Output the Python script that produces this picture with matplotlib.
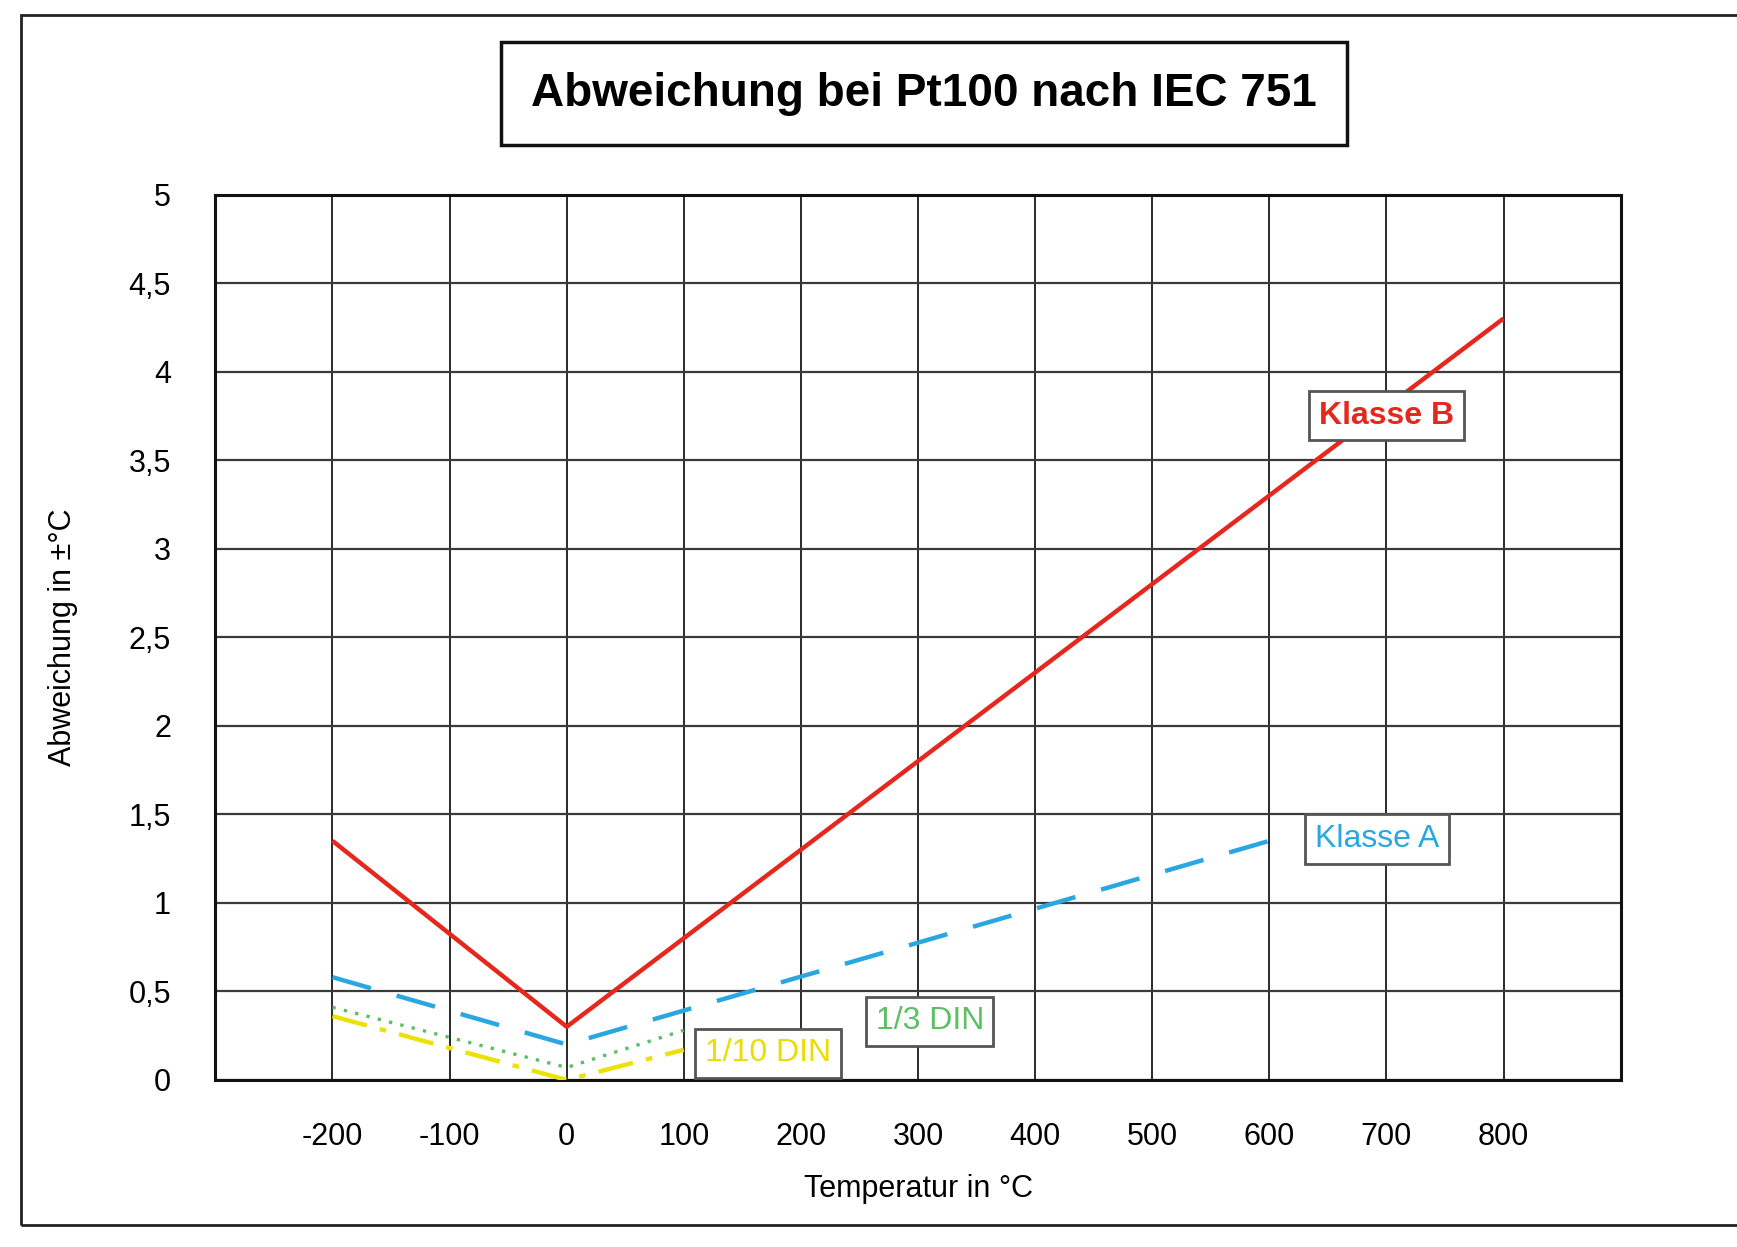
import matplotlib
matplotlib.use("Agg")
import matplotlib.pyplot as plt
from matplotlib.patches import Rectangle

plt.rcParams['font.family'] = ['Liberation Sans', 'DejaVu Sans']

# Data
temp_b = [-200, 0, 800]
klasse_b = [1.35, 0.30, 4.30]
temp_a = [-200, 0, 600]
klasse_a = [0.58, 0.20, 1.35]
temp_din = [-200, 0, 100]
din_1_3 = [0.41, 0.07, 0.28]
din_1_10 = [0.36, 0.00, 0.17]

x_ticks = [-200, -100, 0, 100, 200, 300, 400, 500, 600, 700, 800]
x_tick_labels = ["-200", "-100", "0", "100", "200", "300", "400", "500", "600", "700", "800"]
y_ticks = [0, 0.5, 1, 1.5, 2, 2.5, 3, 3.5, 4, 4.5, 5]
y_tick_labels = ["0", "0,5", "1", "1,5", "2", "2,5", "3", "3,5", "4", "4,5", "5"]

title = "Abweichung bei Pt100 nach IEC 751"
xlabel = "Temperatur in °C"
ylabel = "Abweichung in ±°C"

fig = plt.figure(figsize=(17.37, 12.47), dpi=100)
fig.patches.append(Rectangle((0.012, 0.018), 1.2, 0.97, transform=fig.transFigure,
                             fill=False, edgecolor='#222222', linewidth=2.0))

ax = fig.add_axes([0.124, 0.134, 0.809, 0.71])
ax.set_xlim(-300, 900)
ax.set_ylim(0, 5)

# grid
ax.set_xticks(range(-300, 901, 100), minor=True)
ax.set_xticks(x_ticks)
ax.set_xticklabels(x_tick_labels)
ax.set_yticks(y_ticks)
ax.set_yticklabels(y_tick_labels)
ax.grid(True, which='both', axis='x', color='#2a2a2a', linewidth=1.4)
ax.grid(True, which='major', axis='y', color='#3a3a3a', linewidth=1.6)
ax.tick_params(which='both', length=0)
ax.tick_params(axis='x', pad=30, labelsize=22)
ax.tick_params(axis='y', pad=32, labelsize=22)
for s in ax.spines.values():
    s.set_linewidth(2.2)
    s.set_color('#111111')

ax.plot(temp_b, klasse_b, color='#e5281e', linewidth=3.2, solid_capstyle='butt', zorder=5)
ax.plot(temp_a, klasse_a, color='#2aa6e0', linewidth=3.2, dashes=(9, 6), zorder=4)
ax.plot(temp_din, din_1_3, color='#5cbf62', linewidth=2.4, linestyle=(0, (1, 2.5)), zorder=3)
ax.plot(temp_din, din_1_10, color='#ece20a', linewidth=3.2, linestyle=(0, (8, 3, 1.5, 3)), zorder=3)

box = dict(boxstyle='square,pad=0.3', facecolor='white', edgecolor='#555555', linewidth=2)
ax.text(700, 3.75, "Klasse B", color='#e5281e', fontsize=23, fontweight='bold',
        ha='center', va='center', bbox=box, zorder=6)
ax.text(692, 1.36, "Klasse A", color='#2aa6e0', fontsize=23,
        ha='center', va='center', bbox=box, zorder=6)
ax.text(310, 0.33, "1/3 DIN", color='#5cbf62', fontsize=23,
        ha='center', va='center', bbox=box, zorder=6)
ax.text(172, 0.15, "1/10 DIN", color='#e8de00', fontsize=23,
        ha='center', va='center', bbox=box, zorder=6)

ax.set_xlabel(xlabel, fontsize=22, labelpad=16)
ax.set_ylabel(ylabel, fontsize=22, labelpad=36)

fig.text(0.532, 0.925, title, fontsize=33, fontweight='bold', ha='center', va='center',
         bbox=dict(boxstyle='square,pad=0.65', facecolor='white', edgecolor='#111111', linewidth=2.5))

fig.savefig("out.png", dpi=100)
